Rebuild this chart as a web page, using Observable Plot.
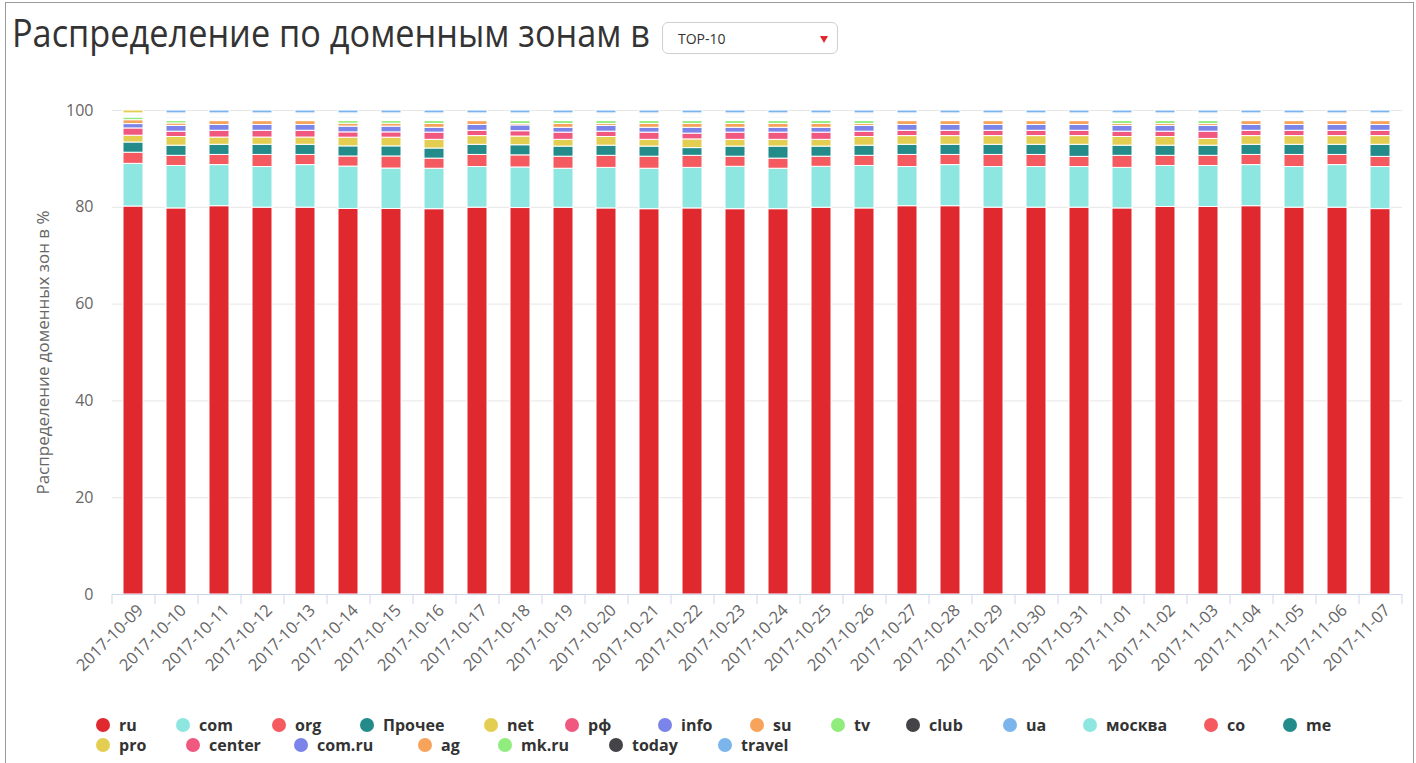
<!DOCTYPE html>
<html><head><meta charset="utf-8">
<script src="https://cdn.jsdelivr.net/npm/d3@7"></script>
<script src="https://cdn.jsdelivr.net/npm/@observablehq/plot@0.6"></script>
<style>
body{margin:0;background:#fff;font-family:"Open Sans",sans-serif;overflow:hidden;}
#frame{position:absolute;left:5px;top:2px;width:1407px;height:800px;border:1px solid #9a9a9a;}
#title{position:absolute;left:12px;top:10px;font-family:"Open Sans",sans-serif;font-size:39px;line-height:44px;color:#333;white-space:nowrap;transform-origin:0 0;}
#select{position:absolute;left:662px;top:22px;width:176px;height:32px;border:1px solid #cfcfcf;border-radius:6px;box-sizing:border-box;background:#fff;}
#select span{position:absolute;left:15px;top:6px;font-size:14px;color:#333;}
#select i{position:absolute;right:9px;top:13px;width:0;height:0;border-left:4px solid transparent;border-right:4px solid transparent;border-top:7px solid #e0282f;}
#chart{position:absolute;left:0;top:90px;}
#legend{position:absolute;left:0;top:0;}
.item{position:absolute;display:flex;align-items:center;height:20px;font-weight:700;font-size:16px;color:#333;white-space:nowrap;}
.dot{width:14px;height:14px;border-radius:50%;margin-right:9px;flex:none;}
</style></head>
<body>
<div id="frame"></div>
<div id="title">Распределение по доменным зонам в</div>
<div id="select"><span>TOP-10</span><i></i></div>
<div id="chart"></div>
<div id="legend"></div>
<script>
const dates = ["2017-10-09","2017-10-10","2017-10-11","2017-10-12","2017-10-13","2017-10-14","2017-10-15","2017-10-16","2017-10-17","2017-10-18","2017-10-19","2017-10-20","2017-10-21","2017-10-22","2017-10-23","2017-10-24","2017-10-25","2017-10-26","2017-10-27","2017-10-28","2017-10-29","2017-10-30","2017-10-31","2017-11-01","2017-11-02","2017-11-03","2017-11-04","2017-11-05","2017-11-06","2017-11-07"];

const series = ["ru","com","org","Прочее","net","рф","info","su","tv","club","ua","москва","co","me","pro","center","com.ru","ag","mk.ru","today","travel"];
const colors = ["#e0292f","#8ee6e1","#f45a5f","#238b8a","#e3ce52","#f0587f","#7b84e8","#f7a35c","#90ed7d","#434348","#7cb5ec","#8ee6e1","#f45a5f","#238b8a","#e3ce52","#f0587f","#7b84e8","#f7a35c","#90ed7d","#434348","#7cb5ec"];

const ru     = [80.0,80.0,80.3,80.0,80.0,80.0,80.0,80.0,80.0,80.0,80.3,80.0,80.0,80.0,80.0,80.0,80.3,80.0,80.3,80.3,80.0,80.0,80.0,80.0,80.3,80.3,80.3,80.0,80.0,79.7];
const com    = [8.8,8.8,8.5,8.4,8.8,8.8,8.4,8.4,8.4,8.4,8.1,8.4,8.4,8.4,8.8,8.4,8.5,8.8,8.1,8.5,8.4,8.4,8.4,8.4,8.5,8.5,8.5,8.4,8.8,8.7];
const org    = [2.3,2.1,2.1,2.5,2.1,2.1,2.5,2.1,2.5,2.5,2.5,2.5,2.5,2.5,2.1,2.1,2.1,2.1,2.5,2.1,2.5,2.5,2.1,2.5,2.1,2.1,2.1,2.5,2.1,2.1];
const other  = [2.1,2.1,2.1,2.1,2.1,2.1,2.1,2.1,2.1,2.1,2.1,2.1,2.1,1.6,2.1,2.5,2.1,2.1,2.1,2.1,2.1,2.1,2.5,2.1,2.1,2.1,2.1,2.1,2.1,2.5];
const net    = [1.4,1.8,1.5,1.5,1.5,1.8,1.8,1.8,1.8,1.8,1.4,1.8,1.4,1.8,1.4,1.4,1.4,1.8,1.8,1.8,1.8,1.8,1.8,1.8,1.8,1.4,1.8,1.8,1.8,1.8];
const rf     = [1.5,1.1,1.4,1.4,1.4,1.1,1.1,1.5,1.1,1.1,1.5,1.1,1.5,1.2,1.5,1.5,1.5,1.1,1.1,1.1,1.1,1.1,1.1,1.1,1.1,1.5,1.1,1.1,1.1,1.1];
const info   = [0.9,1.2,1.2,1.2,1.2,1.2,1.2,1.0,1.2,1.2,1.0,1.2,1.0,1.2,1.0,1.0,1.0,1.2,1.2,1.2,1.2,1.2,1.2,1.2,1.2,1.2,1.2,1.2,1.2,1.2];
const su     = [0.8,0.5,0.8,0.8,0.8,0.6,0.6,0.8,0.8,0.3,0.8,0.4,0.8,0.8,0.8,0.8,0.8,0.4,0.8,0.8,0.8,0.8,0.8,0.4,0.4,0.4,0.8,0.8,0.8,0.8];
const tv     = [0.55,0.5,0,0,0,0.55,0.55,0.6,0,0.6,0.6,0.6,0.6,0.6,0.6,0.6,0.6,0.6,0,0,0,0,0,0.6,0.6,0.6,0,0,0,0];
const club   = [0.2,0.2,0.2,0.2,0.2,0.2,0.2,0.2,0.2,0.2,0.2,0.2,0.2,0.2,0.2,0.2,0.2,0.2,0.2,0.2,0.2,0.2,0.2,0.2,0.2,0.2,0.2,0.2,0.2,0.2];
const ua     = [0.2,0.2,0.2,0.2,0.2,0.2,0.2,0.2,0.2,0.2,0.2,0.2,0.2,0.2,0.2,0.2,0.2,0.2,0.2,0.2,0.2,0.2,0.2,0.2,0.2,0.2,0.2,0.2,0.2,0.2];
const moskva = [0.15,0.15,0.15,0.15,0.15,0.15,0.15,0.15,0.15,0.15,0.15,0.15,0.15,0.15,0.15,0.15,0.15,0.15,0.15,0.15,0.15,0.15,0.15,0.15,0.15,0.15,0.15,0.15,0.15,0.15];
const co     = [0.15,0.15,0.15,0.15,0.15,0.15,0.15,0.15,0.15,0.15,0.15,0.15,0.15,0.15,0.15,0.15,0.15,0.15,0.15,0.15,0.15,0.15,0.15,0.15,0.15,0.15,0.15,0.15,0.15,0.15];
const me     = [0.15,0.15,0.15,0.15,0.15,0.15,0.15,0.15,0.15,0.15,0.15,0.15,0.15,0.15,0.15,0.15,0.15,0.15,0.15,0.15,0.15,0.15,0.15,0.15,0.15,0.15,0.15,0.15,0.15,0.15];
const pro    = [0.6,0.15,0.15,0.15,0.15,0.15,0.15,0.15,0.15,0.15,0.15,0.15,0.15,0.15,0.15,0.15,0.15,0.15,0.15,0.15,0.15,0.15,0.15,0.15,0.15,0.15,0.15,0.15,0.15,0.15];
const center = [0,0.15,0.15,0.15,0.15,0.15,0.15,0.15,0.15,0.15,0.15,0.15,0.15,0.15,0.15,0.15,0.15,0.15,0.15,0.15,0.15,0.15,0.15,0.15,0.15,0.15,0.15,0.15,0.15,0.15];
const comru  = [0,0.12,0.12,0.12,0.12,0.12,0.12,0.12,0.12,0.12,0.12,0.12,0.12,0.12,0.12,0.12,0.12,0.12,0.12,0.12,0.12,0.12,0.12,0.12,0.12,0.12,0.12,0.12,0.12,0.12];
const ag     = [0,0.12,0.12,0.12,0.12,0.12,0.12,0.12,0.12,0.12,0.12,0.12,0.12,0.12,0.12,0.12,0.12,0.12,0.12,0.12,0.12,0.12,0.12,0.12,0.12,0.12,0.12,0.12,0.12,0.12];
const mkru   = [0,0.1,0.1,0.1,0.1,0.1,0.1,0.1,0.1,0.1,0.1,0.1,0.1,0.1,0.1,0.1,0.1,0.1,0.1,0.1,0.1,0.1,0.1,0.1,0.1,0.1,0.1,0.1,0.1,0.1];
const today  = [0,0.1,0.1,0.1,0.1,0.1,0.1,0.1,0.1,0.1,0.1,0.1,0.1,0.1,0.1,0.1,0.1,0.1,0.1,0.1,0.1,0.1,0.1,0.1,0.1,0.1,0.1,0.1,0.1,0.1];
const travel = [0,0.6,0.6,0.6,0.6,0.6,0.6,0.6,0.6,0.6,0.6,0.6,0.6,0.6,0.6,0.6,0.6,0.6,0.6,0.6,0.6,0.6,0.6,0.6,0.6,0.6,0.6,0.6,0.6,0.6];

const yTicks = [0,20,40,60,80,100];
const yTitle = "Распределение доменных зон в %";

const values = [ru,com,org,other,net,rf,info,su,tv,club,ua,moskva,co,me,pro,center,comru,ag,mkru,today,travel];
const totals = dates.map((d,j) => d3.sum(values, v => v[j]));
const data = [];
series.forEach((s,i) => dates.forEach((d,j) => data.push({date:d, series:s, pct: values[i][j]*100/totals[j]})));

const W = 1416, H = 610, mL = 112, mR = 14, mT = 20, mB = 106;
const step = (W - mL - mR) / dates.length;

const chart = Plot.plot({
  width: W, height: H, marginTop: mT, marginBottom: mB, marginLeft: mL, marginRight: mR,
  style: {fontFamily: "'Open Sans', sans-serif", background: "transparent", overflow: "visible"},
  x: {type: "band", domain: dates, paddingInner: 0.53, paddingOuter: 0.265, label: null},
  y: {domain: [0,100], label: null},
  color: {domain: series, range: colors},
  marks: [
    Plot.gridY(yTicks, {stroke: "#e6e6e6", strokeOpacity: 1}),
    Plot.barY(data, {x: "date", y: "pct", fill: "series", stroke: "#ffffff", strokeWidth: 1}),
    Plot.ruleY([0], {stroke: "#ccd6eb"}),
    Plot.ruleX(dates, {x: d => d, dx: -step/2, y1: 0, y2: -2.06, stroke: "#ccd6eb"}),
    Plot.ruleX([dates[dates.length-1]], {x: d => d, dx: step/2, y1: 0, y2: -2.06, stroke: "#ccd6eb"}),
    Plot.axisY(yTicks, {tickSize: 0, tickPadding: 19, fontSize: 16, fill: "#666", label: null}),
    Plot.text([yTitle], {frameAnchor: "left", textAnchor: "middle", rotate: -90, dx: -69, fontSize: 17, fill: "#666"}),
    Plot.axisX({tickSize: 0, tickRotate: -45, tickPadding: 13, dx: 7, fontSize: 16.5, fill: "#666", label: null})
  ]
});
document.getElementById("chart").appendChild(chart);

// fit the title to its width in the reference
const title = document.getElementById("title");
const tw = title.getBoundingClientRect().width;
title.style.transform = `scaleX(${638 / tw})`;

// legend layout: marker centre x and row y of each item (page pixels)
const legendX = [103,183,279,367,491,572,665,757,838,913,1010,1090,1211,1290, 103,193,301,425,505,616,725];
const legendRow = [0,0,0,0,0,0,0,0,0,0,0,0,0,0, 1,1,1,1,1,1,1];
const legend = d3.select("#legend");
series.forEach((s,i) => {
  const it = legend.append("div").attr("class","item")
    .style("left", (legendX[i] - 7) + "px")
    .style("top", (715 + legendRow[i] * 20) + "px");
  it.append("div").attr("class","dot").style("background", colors[i]);
  it.append("span").text(s);
});
</script>
</body></html>
